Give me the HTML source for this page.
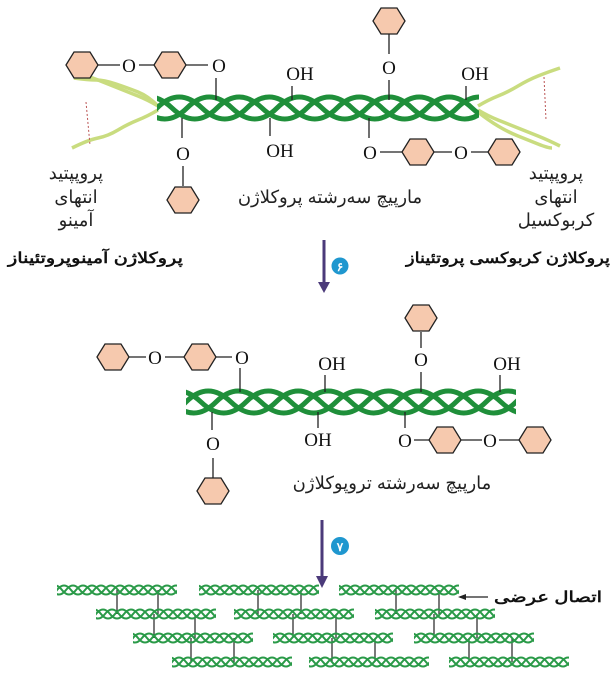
<!DOCTYPE html>
<html><head><meta charset="utf-8"><style>
html,body{margin:0;padding:0;background:#fff;width:612px;height:682px;overflow:hidden}
text{font-family:"Liberation Serif",serif;font-size:19px;fill:#111}
.fa{font-family:"Liberation Sans","Noto Sans CJK SC",sans-serif;font-size:18px;fill:#222}
.fb{font-family:"Liberation Sans","Noto Sans CJK SC",sans-serif;font-size:15px;font-weight:bold;fill:#111}
</style></head><body>
<svg width="612" height="682" viewBox="0 0 612 682" xmlns="http://www.w3.org/2000/svg">
<defs>
<polygon id="hx" points="-16,0 -8,-13 8,-13 16,0 8,13 -8,13" fill="#f6c9ae" stroke="#222" stroke-width="1.3"/>
<clipPath id="c1"><rect x="157" y="80" width="322" height="60"/></clipPath>
<clipPath id="c2"><rect x="186" y="370" width="330" height="60"/></clipPath>
<path id="w" d="M0,0 q22,-22 45,0 t45,0 t45,0 t45,0 t45,0 t45,0 t45,0 t45,0 t45,0 t45,0" fill="none" stroke="#1f8f3a" stroke-width="5"/>
<g id="helix">
<use href="#w" x="-90"/><use href="#w" x="-60"/><use href="#w" x="-30"/>
</g>
<path id="sw" d="M0,0 q7,-9 14,0 t14,0 t14,0 t14,0 t14,0 t14,0 t14,0 t14,0 t14,0 t14,0 t14,0" fill="none" stroke="#2a9a48" stroke-width="2"/>
<g id="fib"><use href="#sw" x="-28"/><use href="#sw" x="-19"/><use href="#sw" x="-9"/></g>
<clipPath id="cf"><rect x="0" y="-8" width="120" height="16"/></clipPath>
<g id="F"><g clip-path="url(#cf)"><use href="#fib"/></g></g>
</defs>

<!-- top tails -->
<g fill="none" stroke="#c9dc7f" stroke-width="3.5">
<path d="M158,106 q-10,-6 -20,-10 t-20,-8 t-20,-8 t-22,-6"/>
<path d="M158,106 q-10,-10 -20,-14 t-22,-8 t-20,-4 t-22,-2"/>
<path d="M158,110 q-10,6 -20,10 t-20,10 t-20,8 t-26,10"/>
<path d="M478,106 q10,-6 20,-10 t20,-10 t20,-10 t22,-8"/>
<path d="M478,110 q10,6 20,10 t20,8 t20,8 t22,10"/>
<path d="M478,112 q10,8 20,14 t20,10 t20,8 t14,4"/>
</g>
<g stroke="#b55" stroke-width="1" stroke-dasharray="2,2"><path d="M86,102 L90,145"/><path d="M544,77 L546,120"/></g>

<g clip-path="url(#c1)"><g transform="translate(157,108)"><use href="#helix"/></g></g>

<g stroke="#222" stroke-width="1.3" fill="none">
<path d="M98,65 H120 M139,65 H154 M186,65 H208 M216,78 V100"/>
<path d="M292,86 V100 M389,34 V54 M389,80 V100 M466,86 V100"/>
<path d="M182,118 V138 M183,166 V186 M270,118 V136 M369,118 V138 M380,152 H402 M434,152 H452 M471,152 H488"/>
</g>
<use href="#hx" x="82" y="65"/><use href="#hx" x="170" y="65"/><use href="#hx" x="389" y="21"/>
<use href="#hx" x="183" y="200"/><use href="#hx" x="418" y="152"/><use href="#hx" x="504" y="152"/>
<text x="129" y="72" text-anchor="middle">O</text>
<text x="219" y="72" text-anchor="middle">O</text>
<text x="300" y="80" text-anchor="middle">OH</text>
<text x="389" y="74" text-anchor="middle">O</text>
<text x="475" y="80" text-anchor="middle">OH</text>
<text x="183" y="160" text-anchor="middle">O</text>
<text x="280" y="157" text-anchor="middle">OH</text>
<text x="370" y="159" text-anchor="middle">O</text>
<text x="461" y="159" text-anchor="middle">O</text>

<text class="fa" x="76" y="179" text-anchor="middle" direction="rtl">پروپپتید</text>
<text class="fa" x="76" y="203" text-anchor="middle" direction="rtl">انتهای</text>
<text class="fa" x="76" y="226" text-anchor="middle" direction="rtl">آمینو</text>
<text class="fa" x="556" y="179" text-anchor="middle" direction="rtl">پروپپتید</text>
<text class="fa" x="556" y="203" text-anchor="middle" direction="rtl">انتهای</text>
<text class="fa" x="556" y="226" text-anchor="middle" direction="rtl">کربوکسیل</text>
<text class="fa" x="330" y="203" text-anchor="middle" direction="rtl">مارپیچ سه‌رشته پروکلاژن</text>
<text class="fb" x="8" y="263" textLength="175" lengthAdjust="spacingAndGlyphs" direction="rtl" text-anchor="end">پروکلاژن آمینوپروتئیناز</text>
<text class="fb" x="406" y="263" textLength="204" lengthAdjust="spacingAndGlyphs" direction="rtl" text-anchor="end">پروکلاژن کربوکسی پروتئیناز</text>

<!-- arrow 1 -->
<path d="M324,240 V283" stroke="#4b3a7a" stroke-width="3"/><path d="M318,282 L324,293 L330,282 Z" fill="#4b3a7a"/>
<circle cx="340" cy="266" r="8.5" fill="#1f97cf"/><text x="340" y="271" text-anchor="middle" style="font-size:12px;fill:#fff;font-weight:bold">۶</text>

<!-- middle -->
<g clip-path="url(#c2)"><g transform="translate(186,402)"><use href="#helix"/></g></g>
<g stroke="#222" stroke-width="1.3" fill="none">
<path d="M129,357 H146 M165,357 H184 M216,357 H232 M240,368 V392 M325,375 V392 M421,332 V348 M421,372 V392 M500,375 V392"/>
<path d="M212,412 V430 M213,458 V478 M318,412 V428 M405,412 V428 M414,440 H430 M461,440 H482 M499,440 H519"/>
</g>
<use href="#hx" x="113" y="357"/><use href="#hx" x="200" y="357"/><use href="#hx" x="421" y="318"/>
<use href="#hx" x="213" y="491"/><use href="#hx" x="445" y="440"/><use href="#hx" x="535" y="440"/>
<text x="155" y="364" text-anchor="middle">O</text>
<text x="242" y="364" text-anchor="middle">O</text>
<text x="332" y="370" text-anchor="middle">OH</text>
<text x="421" y="366" text-anchor="middle">O</text>
<text x="507" y="370" text-anchor="middle">OH</text>
<text x="213" y="450" text-anchor="middle">O</text>
<text x="318" y="446" text-anchor="middle">OH</text>
<text x="405" y="447" text-anchor="middle">O</text>
<text x="490" y="447" text-anchor="middle">O</text>
<text class="fa" x="392" y="489" text-anchor="middle" direction="rtl">مارپیچ سه‌رشته تروپوکلاژن</text>

<!-- arrow 2 -->
<path d="M322,520 V578" stroke="#4b3a7a" stroke-width="3"/><path d="M316,576 L322,588 L328,576 Z" fill="#4b3a7a"/>
<circle cx="340" cy="546" r="9" fill="#1f97cf"/><text x="340" y="551" text-anchor="middle" style="font-size:12px;fill:#fff;font-weight:bold">۷</text>

<!-- fibrils -->
<g stroke="#222" stroke-width="1.2">
<path d="M117,590 V614 M158,590 V614 M258,590 V614 M301,590 V614 M396,590 V614 M439,590 V614"/>
<path d="M154,614 V638 M195,614 V638 M293,614 V638 M336,614 V638 M434,614 V638 M477,614 V638"/>
<path d="M191,638 V662 M234,638 V662 M332,638 V662 M375,638 V662 M469,638 V662 M512,638 V662"/>
</g>
<use href="#F" x="57" y="590"/><use href="#F" x="199" y="590"/><use href="#F" x="339" y="590"/>
<use href="#F" x="96" y="614"/><use href="#F" x="234" y="614"/><use href="#F" x="375" y="614"/>
<use href="#F" x="133" y="638"/><use href="#F" x="273" y="638"/><use href="#F" x="414" y="638"/>
<use href="#F" x="172" y="662"/><use href="#F" x="309" y="662"/><use href="#F" x="449" y="662"/>
<path d="M488,597 H460" stroke="#222" stroke-width="1.3"/><path d="M458,597 l8,-3 v6 z" fill="#222"/>
<text class="fb" x="494" y="602" text-anchor="end" direction="rtl" textLength="108" lengthAdjust="spacingAndGlyphs">اتصال عرضی</text>
</svg>
</body></html>
